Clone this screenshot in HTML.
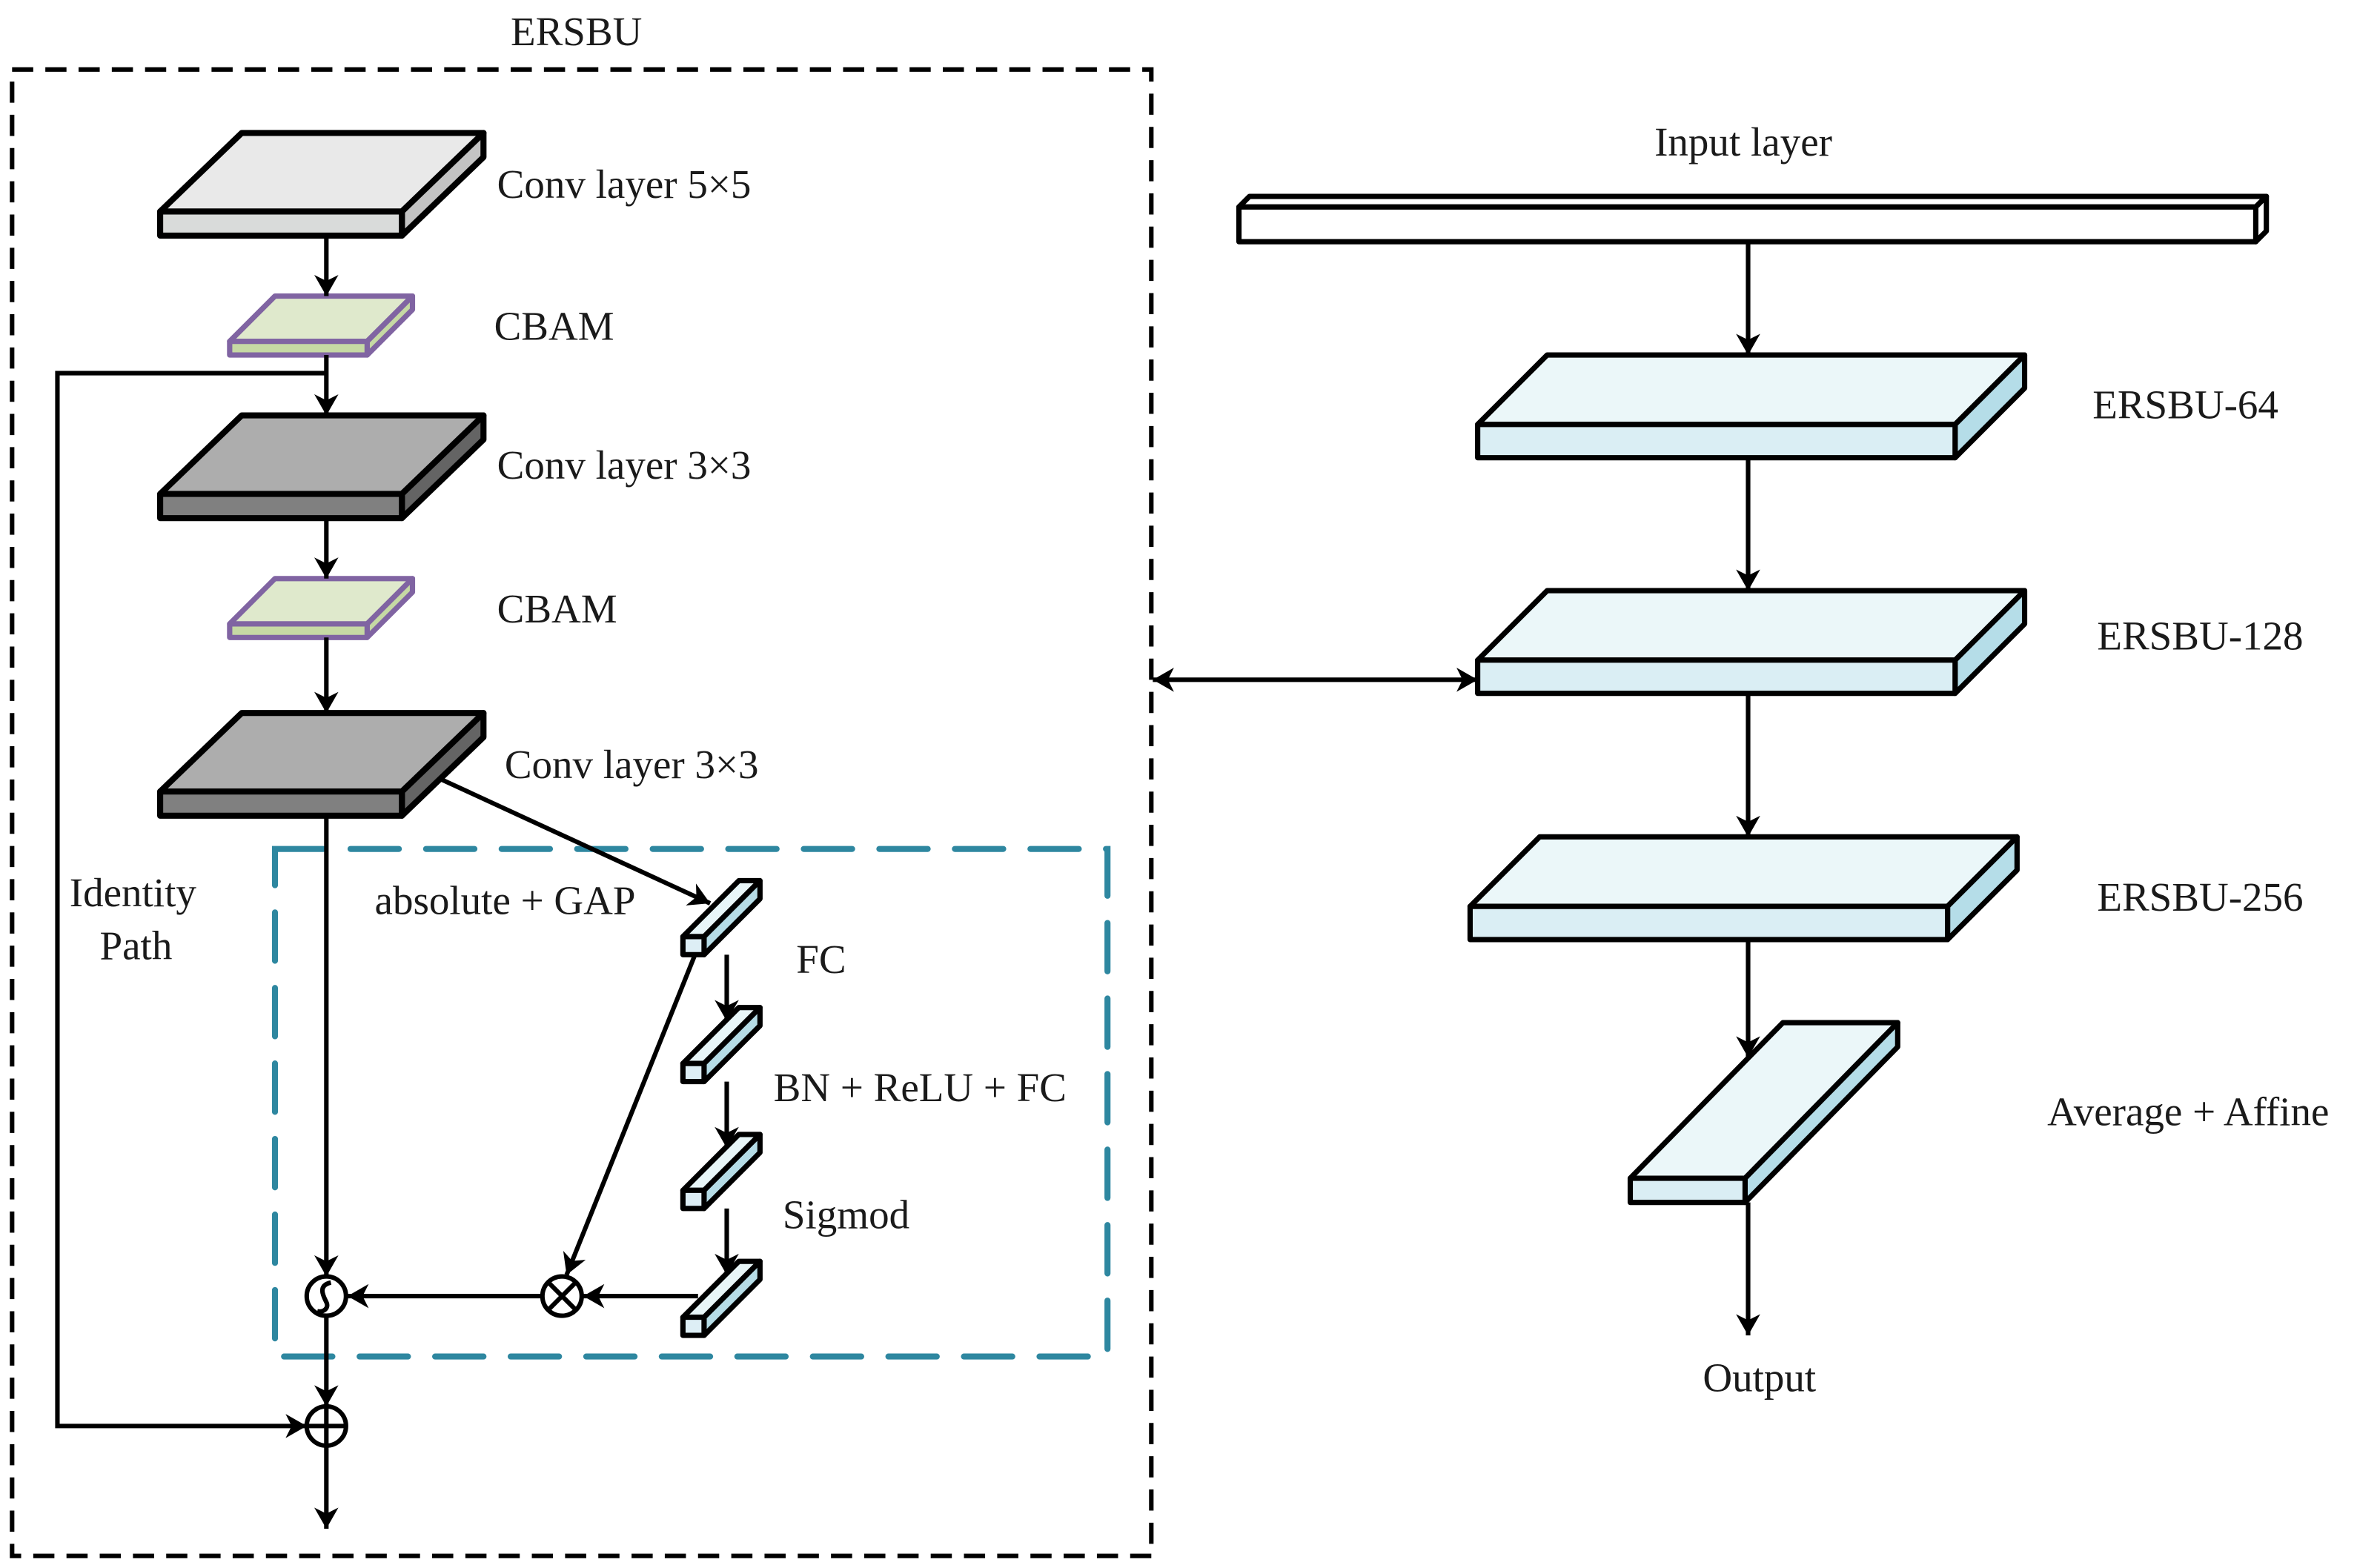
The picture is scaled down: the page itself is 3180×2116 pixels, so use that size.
<!DOCTYPE html>
<html><head><meta charset="utf-8"><style>html,body{margin:0;padding:0;background:#fff}svg{display:block}text{font-family:"Liberation Serif","Times New Roman",serif}</style></head>
<body>
<svg width="3180" height="2116" viewBox="0 0 1560 1038" preserveAspectRatio="none" xmlns="http://www.w3.org/2000/svg" font-family="'Liberation Serif', serif" font-size="27" fill="#1a1a1a">
<defs>
<marker id="a" viewBox="0 0 14 16" refX="14" refY="8" markerWidth="14" markerHeight="16" markerUnits="userSpaceOnUse" orient="auto"><path d="M0,0 L14,8 L0,16 L4,8 Z" fill="#000"/></marker>
<marker id="b" viewBox="0 0 14 16" refX="0" refY="8" markerWidth="14" markerHeight="16" markerUnits="userSpaceOnUse" orient="auto"><path d="M14,0 L0,8 L14,16 L10,8 Z" fill="#000"/></marker>
</defs>
<rect width="1560" height="1038" fill="#fff"/>
<rect x="8" y="46" width="754" height="984" fill="none" stroke="#000" stroke-width="3" stroke-dasharray="14,8"/>
<text x="338" y="30">ERSBU</text>
<rect x="182" y="562" width="551" height="336" fill="none" stroke="#2e87a0" stroke-width="4" stroke-dasharray="32,18" stroke-linecap="round"/>

<g stroke="#000" stroke-width="4" stroke-linejoin="round">
<path d="M106,140 L160,88 L320,88 L266,140 Z" fill="#e9e9e9"/>
<path d="M266,140 L320,88 L320,104 L266,156 Z" fill="#c3c3c3"/>
<rect x="106" y="140" width="160" height="16" fill="#d9dbda"/>
<path d="M106,327 L160,275 L320,275 L266,327 Z" fill="#adadad"/>
<path d="M266,327 L320,275 L320,291 L266,343 Z" fill="#646464"/>
<rect x="106" y="327" width="160" height="16" fill="#808080"/>
<path d="M106,524 L160,472 L320,472 L266,524 Z" fill="#adadad"/>
<path d="M266,524 L320,472 L320,488 L266,540 Z" fill="#646464"/>
<rect x="106" y="524" width="160" height="16" fill="#808080"/>
</g>
<g stroke="#8064a2" stroke-width="3.5" stroke-linejoin="round">
<path d="M152,226 L182,196 L273,196 L243,226 Z" fill="#dfe9cc"/>
<path d="M243,226 L273,196 L273,205 L243,235 Z" fill="#c6d9a4"/>
<rect x="152" y="226" width="91" height="9" fill="#c6d9a4"/>
<path d="M152,413 L182,383 L273,383 L243,413 Z" fill="#dfe9cc"/>
<path d="M243,413 L273,383 L273,392 L243,422 Z" fill="#c6d9a4"/>
<rect x="152" y="413" width="91" height="9" fill="#c6d9a4"/>
</g>
<g stroke="#000" stroke-width="3.5" stroke-linejoin="round">
<g id="fc">
<path d="M452,620 L489,583 L503,583 L466,620 Z" fill="#e8f6f8"/>
<path d="M466,620 L503,583 L503,595 L466,632 Z" fill="#b5dce6"/>
<rect x="452" y="620" width="14" height="12" fill="#ddeef5"/>
</g>
<use href="#fc" y="84"/>
<use href="#fc" y="168"/>
<use href="#fc" y="252"/>
</g>

<g stroke="#000" stroke-width="3.5" stroke-linejoin="round">
<path d="M820,137 L827,130 L1500,130 L1493,137 Z" fill="#fff"/>
<path d="M1493,137 L1500,130 L1500,153 L1493,160 Z" fill="#fff"/>
<rect x="820" y="137" width="673" height="23" fill="#fff"/>
<path d="M978,281 L1024,235 L1340,235 L1294,281 Z" fill="#ebf7f9"/>
<path d="M1294,281 L1340,235 L1340,257 L1294,303 Z" fill="#b5dde8"/>
<rect x="978" y="281" width="316" height="22" fill="#daeef4"/>
<path d="M978,437 L1024,391 L1340,391 L1294,437 Z" fill="#ebf7f9"/>
<path d="M1294,437 L1340,391 L1340,413 L1294,459 Z" fill="#b5dde8"/>
<rect x="978" y="437" width="316" height="22" fill="#daeef4"/>
<path d="M973,600 L1019,554 L1335,554 L1289,600 Z" fill="#ebf7f9"/>
<path d="M1289,600 L1335,554 L1335,576 L1289,622 Z" fill="#b5dde8"/>
<rect x="973" y="600" width="316" height="22" fill="#daeef4"/>
<path d="M1079,780 L1180,677 L1256,677 L1155,780 Z" fill="#ebf7f9"/>
<path d="M1155,780 L1256,677 L1256,693 L1155,796 Z" fill="#b5dde8"/>
<rect x="1079" y="780" width="76" height="16" fill="#daeef4"/>
</g>

<g stroke="#000" stroke-width="3" fill="none">
<line x1="216" y1="156" x2="216" y2="196" marker-end="url(#a)"/>
<line x1="216" y1="235" x2="216" y2="275" marker-end="url(#a)"/>
<line x1="216" y1="343" x2="216" y2="383" marker-end="url(#a)"/>
<line x1="216" y1="422" x2="216" y2="472" marker-end="url(#a)"/>
<polyline points="216,247 38,247 38,944 203,944" marker-end="url(#a)"/>
<line x1="216" y1="540" x2="216" y2="845" marker-end="url(#a)"/>
<line x1="216" y1="871" x2="216" y2="931" marker-end="url(#a)"/>
<line x1="216" y1="957" x2="216" y2="1012" marker-end="url(#a)"/>
<line x1="290" y1="515" x2="470" y2="598" marker-end="url(#a)"/>
<line x1="481" y1="632" x2="481" y2="676" marker-end="url(#a)"/>
<line x1="481" y1="716" x2="481" y2="760" marker-end="url(#a)"/>
<line x1="481" y1="800" x2="481" y2="844" marker-end="url(#a)"/>
<line x1="460" y1="632" x2="375" y2="844" marker-end="url(#a)"/>
<line x1="462" y1="858" x2="386" y2="858" marker-end="url(#a)"/>
<line x1="358" y1="858" x2="230" y2="858" marker-end="url(#a)"/>
<line x1="763" y1="450" x2="978" y2="450" marker-start="url(#b)" marker-end="url(#a)"/>
<line x1="1157" y1="160" x2="1157" y2="235" marker-end="url(#a)"/>
<line x1="1157" y1="303" x2="1157" y2="391" marker-end="url(#a)"/>
<line x1="1157" y1="459" x2="1157" y2="554" marker-end="url(#a)"/>
<line x1="1157" y1="622" x2="1157" y2="700" marker-end="url(#a)"/>
<line x1="1157" y1="796" x2="1157" y2="884" marker-end="url(#a)"/>
<circle cx="216" cy="858" r="13" fill="#fff"/>
<path d="M219,849 C210,851 214,858 216,862 C218,866 214,869 210,868" />
<circle cx="372" cy="858" r="13" fill="#fff"/>
<path d="M363,849 L381,867 M381,849 L363,867"/>
<circle cx="216" cy="944" r="13" fill="#fff"/>
<path d="M216,931 L216,957 M203,944 L229,944"/>
</g>

<text x="329" y="131">Conv layer 5×5</text>
<text x="327" y="225">CBAM</text>
<text x="329" y="317">Conv layer 3×3</text>
<text x="329" y="412">CBAM</text>
<text x="334" y="515">Conv layer 3×3</text>
<text x="46" y="600">Identity</text>
<text x="66" y="635">Path</text>
<text x="248" y="605">absolute + GAP</text>
<text x="527" y="644">FC</text>
<text x="512" y="729">BN + ReLU + FC</text>
<text x="518" y="813">Sigmod</text>
<text x="1095" y="103">Input layer</text>
<text x="1385" y="277">ERSBU-64</text>
<text x="1388" y="430">ERSBU-128</text>
<text x="1388" y="603">ERSBU-256</text>
<text x="1355" y="745">Average + Affine</text>
<text x="1127" y="921">Output</text>
</svg>
</body></html>
